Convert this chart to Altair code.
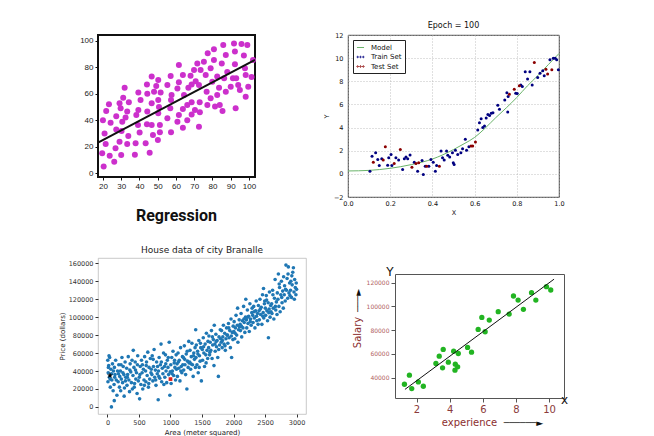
import altair as alt
import pandas as pd

# ---------------- Panel 1 : "Regression" ----------------
p1_x = [20, 20.9, 21.5, 19.6, 20.4, 21.8, 23.3, 24.2, 23.7, 26.2,
        26.9, 27.3, 27.3, 29.1, 29.7, 29.1, 30, 30.2, 30.6, 31.1,
        31.9, 32.4, 33.3, 34.2, 33.9, 33.3, 37.5, 37.9, 38.3, 39.4,
        39.4, 39.2, 40.1, 40.6, 43.4, 44.1, 44.3, 44.3, 44.1, 45.6,
        46.7, 46.7, 46.7, 47.4, 48, 49.2, 50.3, 50.3, 50.3, 50.1,
        50.7, 51.2, 51.2, 51.6, 55.3, 55.3, 57.1, 57.6, 57.3, 56.9,
        57.3, 60.8, 60.8, 61.6, 61.6, 61.6, 63.8, 63.8, 63.8, 64.4,
        66.2, 66.2, 66.8, 68, 68.6, 68.6, 68.6, 69.9, 70.4, 70.8,
        71.7, 72.6, 72.6, 73, 73.1, 73.5, 75.3, 76.3, 76.8, 77.2,
        77.4, 79, 79, 79.9, 80.8, 81.4, 80.8, 82.6, 82.6, 83.6,
        84, 85.1, 85.5, 85.9, 86.4, 87.3, 87.3, 88.1, 90, 91.2,
        91.8, 92.3, 92.3, 92.7, 93, 94.1, 95, 95.9, 97.2, 97.8,
        98.2, 98.2, 99.1, 99.6, 101.4, 102.2]
p1_y = [40, 30, 22, 15, 5, 47, 52, 38, 13, 8.6,
        18.7, 33, 43, 52.8, 49, 23.7, 13.6, 31.8, 38.9, 57,
        64.6, 42, 46.5, 53.5, 28, 22, 13.9, 22.5, 44, 60.9,
        47.7, 36.4, 30.6, 55.3, 22.5, 67, 60, 46.5, 36.9, 15.4,
        73, 52.8, 36.4, 28.8, 61.6, 65.9, 70.5, 55.3, 45.2, 25,
        50, 36.4, 30.8, 60.9, 66.7, 41.4, 73.5, 59, 55.3, 49,
        30.8, 64, 38.9, 81.8, 68.7, 44, 74.2, 48.5, 34.3, 59,
        51.5, 40, 64.6, 73.7, 67, 53.5, 44.4, 78, 47.7, 69.4,
        83, 35, 66.7, 53.5, 46, 78, 84.3, 74.2, 61.6, 51.5,
        90.7, 56.6, 79.3, 69.2, 85.6, 50.3, 93.7, 73, 59, 64.6,
        51.5, 83, 47, 97, 71.7, 61.6, 89.4, 76.5, 65.4, 71.7,
        98, 92, 82.3, 49, 71.7, 66.7, 62.9, 97.7, 89, 79.3,
        74.2, 57.8, 97, 65.4, 72.7, 85.6]
fit1_x = [17.3, 103.3]
fit1_y = [23.0, 85.6]
x1_ticks = [20, 30, 40, 50, 60, 70, 80, 90, 100]
y1_ticks = [0, 20, 40, 60, 80, 100]

# ---------------- Panel 2 : "Epoch = 100" ----------------
train_x = [.104, .114, .131, .141, .148, .16, .188, .193, .204, .208,
           .227, .24, .259, .267, .275, .283, .294, .314, .33, .351,
           .357, .366, .383, .393, .404, .414, .42, .441, .448, .456,
           .467, .473, .482, .495, .503,
           .499, .509, .52, .535, .543, .556, .562, .573,
           .615, .623, .631, .639, .647, .655, .663, .671, .679, .687,
           .71, .718, .743, .753, .759, .757,
           .795, .802, .819, .826, .84, .851, .862, .873,
           .899, .91, .923, .93, .957, .973, .982, .989, .997]
train_y = [.23, 1.53, 1.82, 1.24, .72, 1.3, .75, 1.39, 1.68, .72,
           1.39, 1.19, .37, 1.3, 1.45, 1.3, 1.62, 1.01, .23, 1.16,
           -.06, .66, .66, 1.24, 1.0, .23, .72, 1.97, 1.39, 1.19,
           1.97, 1.6, 1.45, 1.82, .81,
           .95, 2.05, 1.68, 1.82, 2.16, 2.98, 2.05, 2.34,
           3.79, 4.42, 4.77, 4.0, 4.13, 4.83, 5.14, 5.05, 5.23, 5.29,
           5.93, 5.58, 6.39, 7.02, 6.68, 5.35,
           6.97, 6.94, 7.67, 7.55, 8.82, 8.19, 8.82, 7.67,
           8.33, 8.7, 8.91, 8.48, 9.87, 10.0, 10.0, 9.87, 8.99]
test_x = [.12, .167, .177, .219, .248, .303, .322, .335, .373, .433,
          .583, .591, .604, .765, .788, .812, .883, .938, .946, .966]
test_y = [1.01, 1.19, 2.34, .89, 2.11, .58, .9, .95, .66, .66,
          2.4, 2.4, 2.75, 6.89, 7.32, 7.61, 9.63, 9.05, 8.62, 8.99]
model_x = [0, .1, .2, .3, .4, .45, .5, .55, .6, .65, .7, .75, .8, .85, .9, .95, 1.0]
model_y = [.25, .3, .48, .8, 1.28, 1.65, 2.1, 2.6, 3.15, 3.95, 4.85, 5.7, 6.6, 7.6, 8.5, 9.45, 10.4]
series_names = ["Model", "Train Set", "Test Set"]
x2_ticks = [0, 0.2, 0.4, 0.6, 0.8, 1.0]
y2_ticks = [-2, 0, 2, 4, 6, 8, 10, 12]

# ---------------- Panel 3 : "House data of city Branalle" ----------------
area = [5, 12, 20, 8, 30, 25, 42, 45, 55, 63, 70, 80, 90, 95, 35, 15, 65,
        105, 110, 120, 130, 140, 150, 160, 170, 180, 190, 115, 175, 108, 195,
        205, 210, 220, 230, 240, 250, 260, 270, 280, 290, 215, 265, 285, 245,
        305, 310, 320, 330, 340, 350, 360, 370, 380, 390, 315, 355, 395,
        405, 410, 420, 430, 440, 450, 460, 470, 480, 490, 445, 475, 425,
        505, 510, 520, 530, 540, 550, 560, 570, 580, 590, 515, 555, 585,
        605, 610, 620, 630, 640, 650, 660, 670, 680, 690, 615, 655, 695,
        705, 710, 720, 730, 740, 750, 760, 770, 780, 790, 725, 765, 795,
        805, 810, 820, 830, 840, 850, 860, 870, 880, 890, 815, 855, 895,
        905, 910, 920, 930, 940, 950, 960, 970, 980, 990, 925, 965, 995,
        1005, 1010, 1020, 1030, 1040, 1050, 1060, 1070, 1080, 1090, 1025, 1065, 1095,
        1105, 1110, 1120, 1130, 1140, 1150, 1160, 1170, 1180, 1190, 1125, 1165, 1195,
        1205, 1210, 1220, 1230, 1240, 1250, 1260, 1270, 1280, 1290, 1225, 1265, 1295,
        1305, 1310, 1320, 1330, 1340, 1350, 1360, 1370, 1380, 1390, 1325, 1365, 1395,
        1400, 1405, 1410, 1420, 1430, 1440, 1450, 1460, 1470, 1480, 1490, 1435, 1475, 1455,
        1505, 1510, 1520, 1530, 1540, 1550, 1560, 1570, 1580, 1590, 1525, 1565, 1595,
        1605, 1610, 1620, 1630, 1640, 1650, 1660, 1670, 1680, 1690, 1625, 1665, 1695,
        1705, 1710, 1720, 1730, 1740, 1750, 1760, 1770, 1780, 1790, 1725, 1765, 1795,
        1805, 1810, 1820, 1830, 1840, 1850, 1860, 1870, 1880, 1890, 1825, 1865, 1895,
        1905, 1910, 1920, 1930, 1940, 1950, 1960, 1970, 1980, 1990, 1925, 1965, 1995,
        2005, 2010, 2020, 2030, 2040, 2050, 2060, 2070, 2080, 2090, 2025, 2065, 2095,
        2105, 2110, 2120, 2130, 2140, 2150, 2160, 2170, 2180, 2190, 2125, 2165, 2195,
        2205, 2210, 2220, 2230, 2240, 2250, 2260, 2270, 2280, 2290, 2225, 2265, 2295,
        2305, 2310, 2320, 2330, 2340, 2350, 2360, 2370, 2380, 2390, 2325, 2365, 2395,
        2405, 2410, 2420, 2430, 2440, 2450, 2460, 2470, 2476, 2480, 2490, 2425, 2465, 2495,
        2505, 2510, 2520, 2530, 2540, 2554, 2550, 2560, 2570, 2580, 2590, 2525, 2565, 2595,
        2605, 2610, 2620, 2630, 2640, 2650, 2660, 2670, 2680, 2690, 2625, 2665, 2695,
        2705, 2712, 2720, 2730, 2740, 2750, 2760, 2770, 2780, 2790, 2725, 2765, 2795,
        2805, 2810, 2820, 2832, 2840, 2850, 2860, 2870, 2880, 2890, 2825, 2865, 2895,
        2905, 2910, 2920, 2930, 2940, 2950, 2960, 2970, 2980, 2990, 2995, 2925, 2965, 3000]
price_k = [52, 38, 46, 28, 33, 57, 31, 22, 42, 0, 30, 48, 18, 40, 55, 44, 37,
           25, 44, 36, 52, 30, 13, 40, 28, 47, 22, 33, 37, 7, 34,
           40, 18, 31, 55, 27, 45, 36, 21, 50, 33, 47, 12, 29, 38,
           43, 24, 36, 56, 30, 17, 48, 39, 27, 52, 33, 41, 20,
           35, 63, 44, 26, 50, 31, 38, 15, 57, 29, 41, 47, 22,
           33, 9, 45, 25, 52, 38, 20, 42, 30, 56, 36, 47, 24,
           40, 28, 50, 35, 61, 22, 44, 31, 54, 38, 46, 26, 42,
           36, 57, 29, 45, 64, 33, 41, 24, 50, 37, 53, 30, 45,
           8, 40, 55, 32, 47, 70, 28, 43, 37, 60, 34, 50, 25,
           45, 33, 58, 40, 27, 52, 44, 36, 72, 13, 48, 55, 39,
           47, 26, 55, 40, 62, 35, 49, 44, 30, 58, 37, 52, 42,
           48, 34, 60, 43, 52, 29, 66, 45, 38, 56, 50, 40, 47,
           55, 41, 68, 47, 36, 59, 20, 51, 44, 73, 53, 62, 49,
           50, 63, 42, 56, 71, 47, 34, 60, 53, 66, 48, 57, 44,
           86, 55, 69, 47, 62, 38, 74, 57, 51, 66, 29, 59, 71, 44,
           64, 52, 77, 60, 45, 70, 58, 82, 63, 54, 67, 49, 73,
           66, 79, 58, 72, 63, 85, 54, 69, 75, 46, 61, 78, 91,
           70, 62, 81, 67, 74, 55, 34, 78, 69, 86, 73, 64, 76,
           72, 85, 66, 78, 91, 70, 82, 63, 76, 88, 74, 68, 80,
           80, 71, 93, 77, 85, 66, 98, 55, 83, 75, 88, 79, 90,
           84, 95, 76, 88, 102, 80, 91, 72, 86, 97, 82, 110, 89,
           92, 85, 104, 78, 96, 88, 112, 94, 83, 100, 90, 98, 120,
           97, 88, 108, 93, 101, 84, 115, 98, 91, 105, 100, 95, 110,
           102, 94, 112, 99, 88, 107, 118, 96, 104, 92, 106, 101, 113,
           107, 97, 120, 103, 111, 92, 125, 105, 132, 99, 115, 109, 101, 118,
           110, 102, 124, 107, 96, 77, 116, 105, 128, 100, 113, 119, 109, 106,
           115, 104, 130, 110, 98, 121, 142, 108, 117, 103, 125, 112, 127,
           120, 148, 112, 133, 106, 125, 140, 116, 129, 110, 137, 122, 145,
           125, 135, 118, 158, 130, 143, 121, 156, 127, 138, 131, 148, 124,
           130, 140, 122, 136, 150, 155, 128, 142, 133, 125, 138, 146, 120, 131]
star_area, star_price = [40], [35000]
red_area, red_price = [1000], [31000]
x3_ticks = [0, 500, 1000, 1500, 2000, 2500, 3000]
y3_ticks = [0, 20000, 40000, 60000, 80000, 100000, 120000, 140000, 160000]

# ---------------- Panel 4 : Salary vs experience ----------------
exp_x = [1.27, 1.57, 1.71, 2.11, 2.41, 3.17, 3.37, 3.57, 3.61, 3.92,
         4.24, 4.34, 4.32, 4.48, 4.52, 5.08, 5.32, 5.72, 5.94, 6.14,
         6.39, 6.93, 7.59, 7.85, 8.13, 8.45, 8.94, 9.2, 9.84, 10.1]
sal_y = [34360, 41970, 30700, 36340, 32670, 51840, 58040, 48180, 63680, 52970,
         62270, 51280, 46200, 49020, 60300, 65370, 61430, 80590, 90740, 78620,
         88490, 95530, 93560, 108780, 105400, 97510, 111600, 105400, 116680, 113860]
fit4_x = [1.3, 10.3]
fit4_y = [30000, 123000]
x4_ticks = [2, 4, 6, 8, 10]
y4_ticks = [40000, 60000, 80000, 100000, 120000]

# ---------------- styling ----------------
SANS = "Liberation Sans"
DJV = "DejaVu Sans"
MAGENTA = "#cc30cc"
GREEN_LINE = "#6ab46a"
NAVY = "#000080"
DARKRED = "#8b0000"
MPL_BLUE = "#1f77b4"
GREEN = "#22b422"
DOTS = ("M-1,0a0.2,0.2 0 1,0 0.4,0a0.2,0.2 0 1,0 -0.4,0"
        "M-0.2,0a0.2,0.2 0 1,0 0.4,0a0.2,0.2 0 1,0 -0.4,0"
        "M0.6,0a0.2,0.2 0 1,0 0.4,0a0.2,0.2 0 1,0 -0.4,0")
STAR = ("M0,-1L0.24,-0.33L0.95,-0.31L0.38,0.12L0.59,0.81L0,0.4"
        "L-0.59,0.81L-0.38,0.12L-0.95,-0.31L-0.24,-0.33Z")

# ---------- panel 1 ----------
W1, H1 = 157, 142
ax1 = dict(grid=False, domain=False, tickSize=3, tickColor="#111",
           labelFontSize=8, labelColor="#222", labelFont=SANS, labelPadding=2,
           labelFlush=False, title=None)
x1 = alt.X("x:Q", scale=alt.Scale(domain=[17.3, 103.3], nice=False, zero=False),
           axis=alt.Axis(values=x1_ticks, **ax1))
y1 = alt.Y("y:Q", scale=alt.Scale(domain=[-3, 104.5], nice=False, zero=False),
           axis=alt.Axis(values=y1_ticks, **ax1))
pts1 = alt.Chart(pd.DataFrame({"x": p1_x, "y": p1_y})).mark_circle(
    size=36, color=MAGENTA, opacity=1).encode(x=x1, y=y1)
line1 = alt.Chart(pd.DataFrame({"x": fit1_x, "y": fit1_y})).mark_line(
    color="#111", strokeWidth=2, clip=True).encode(x=x1, y=y1)
panel1 = alt.layer(pts1, line1).properties(
    width=W1, height=H1,
    view=alt.ViewBackground(stroke="#111", strokeWidth=2, fill="white"),
    title=alt.TitleParams("Regression", orient="bottom", anchor="middle", offset=18,
                          fontSize=16, fontWeight="bold", font="Roboto", color="#111"))

# ---------- panel 2 ----------
W2, H2 = 211, 162
ax2 = dict(grid=True, gridColor="#b0b0b0", gridDash=[1, 2], gridWidth=0.8,
           domain=False, ticks=False, labelFontSize=6.5, labelColor="#111",
           labelFont=DJV, labelFlush=False,
           titleFontSize=6.5, titleFontWeight="normal", titleFont=DJV, titleColor="#111")
x2 = alt.X("x:Q", scale=alt.Scale(domain=[0, 1], nice=False, zero=False),
           axis=alt.Axis(values=x2_ticks, format=".1f", title="X", titlePadding=3,
                         labelPadding=3, **ax2))
y2 = alt.Y("y:Q", scale=alt.Scale(domain=[-2, 12], nice=False, zero=False),
           axis=alt.Axis(values=y2_ticks, format="d", title="Y", titlePadding=4,
                         labelPadding=5, **ax2))
model = alt.Chart(pd.DataFrame({"x": model_x, "y": model_y})).mark_line(
    color=GREEN_LINE, strokeWidth=1, interpolate="monotone").encode(x=x2, y=y2)
train = alt.Chart(pd.DataFrame({"x": train_x, "y": train_y})).mark_circle(
    size=9, color=NAVY, opacity=1).encode(x=x2, y=y2)
test = alt.Chart(pd.DataFrame({"x": test_x, "y": test_y})).mark_circle(
    size=9, color=DARKRED, opacity=1).encode(x=x2, y=y2)
legend2 = alt.Legend(title=None, orient="top-left", offset=5, padding=3,
                     strokeColor="#222", fillColor="white", labelFontSize=7,
                     labelFont=DJV, labelColor="#111", rowPadding=1.5,
                     symbolSize=50, symbolStrokeWidth=1.0, symbolOpacity=1,
                     labelOffset=6, cornerRadius=0)
legend_layer = alt.Chart(pd.DataFrame({"series": series_names})).mark_point(
    filled=False, opacity=0, size=1).encode(
    color=alt.Color("series:N", scale=alt.Scale(domain=series_names,
                    range=[GREEN_LINE, NAVY, DARKRED]), legend=legend2),
    shape=alt.Shape("series:N", scale=alt.Scale(domain=series_names,
                    range=["stroke", DOTS, DOTS]), legend=legend2))
panel2 = alt.layer(model, train, test, legend_layer).properties(
    width=W2, height=H2,
    view=alt.ViewBackground(stroke="#111", strokeWidth=0.8, fill="white"),
    title=alt.TitleParams("Epoch = 100", fontSize=8, fontWeight="normal", font=DJV,
                          color="#111", offset=2, anchor="middle"))

# ---------- panel 3 ----------
W3, H3 = 208, 156
ax3 = dict(grid=False, domain=False, tickSize=3, tickColor="#333",
           labelFontSize=6.5, labelColor="#333", labelFont=DJV, labelPadding=2,
           labelFlush=False, titleFontSize=7, titleFontWeight="normal",
           titleFont=DJV, titleColor="#222")
x3 = alt.X("area:Q", scale=alt.Scale(domain=[-150, 3150], nice=False, zero=False),
           axis=alt.Axis(values=x3_ticks, format="d", title="Area (meter squared)",
                         titlePadding=3, **ax3))
y3 = alt.Y("price:Q", scale=alt.Scale(domain=[-7900, 165900], nice=False, zero=False),
           axis=alt.Axis(values=y3_ticks, format="d", title="Price (dollars)",
                         titlePadding=3, **ax3))
df3 = pd.DataFrame({"area": area, "price": [v * 1000 for v in price_k]})
pts3 = alt.Chart(df3).mark_circle(size=13, color=MPL_BLUE, opacity=1).encode(x=x3, y=y3)
star3 = alt.Chart(pd.DataFrame({"area": star_area, "price": star_price})).mark_point(
    shape=STAR, filled=True, color="black", size=40, opacity=1).encode(x=x3, y=y3)
red3 = alt.Chart(pd.DataFrame({"area": red_area, "price": red_price})).mark_square(
    size=14, color="#e0201a", opacity=1).encode(x=x3, y=y3)
panel3 = alt.layer(pts3, star3, red3).properties(
    width=W3, height=H3,
    view=alt.ViewBackground(stroke="#bbbbbb", strokeWidth=0.8, fill="white"),
    title=alt.TitleParams("House data of city Branalle", fontSize=9, fontWeight="normal",
                          font=DJV, color="#222", offset=3, anchor="middle"))

# ---------- panel 4 ----------
W4, H4 = 169, 124
X4_DOMAIN = [0.7, 10.9]
Y4_DOMAIN = [22750, 127350]
sx4 = alt.Scale(domain=X4_DOMAIN, nice=False, zero=False)
sy4 = alt.Scale(domain=Y4_DOMAIN, nice=False, zero=False)
pts4 = alt.Chart(pd.DataFrame({"x": exp_x, "y": sal_y})).mark_circle(
    size=28, color=GREEN, opacity=1).encode(
    x=alt.X("x:Q", scale=sx4, axis=alt.Axis(
        values=x4_ticks, grid=False, domain=False, tickSize=4, tickColor="#555",
        labelFontSize=10, labelColor="#8b3a3a", labelFont=DJV, labelPadding=2,
        labelFlush=False, title="experience", titleFont=DJV, titleFontSize=10,
        titleFontWeight="normal", titleColor="#8b2e2e", titleX=74, titleY=24,
        titleBaseline="middle", titleAlign="center")),
    y=alt.Y("y:Q", scale=sy4, axis=alt.Axis(
        values=y4_ticks, format="d", grid=False, domain=False, tickSize=4,
        tickColor="#555", labelFontSize=6, labelColor="#b06060", labelFont=DJV,
        labelPadding=2, labelFlush=False, title="Salary", titleFont=DJV,
        titleFontSize=10, titleFontWeight="normal", titleColor="#8b2e2e",
        titleX=-38, titleY=58, titleBaseline="middle", titleAlign="center")))
fit4 = alt.Chart(pd.DataFrame({"x": fit4_x, "y": fit4_y})).mark_line(
    color="#111", strokeWidth=1).encode(
    x=alt.X("x:Q", scale=sx4, axis=alt.Axis(
        orient="bottom", values=[X4_DOMAIN[1]], labelExpr="'x'", ticks=False,
        tickSize=0, domain=False, grid=False, labelFontSize=12, labelColor="#111",
        labelFont=DJV, labelPadding=1, labelBaseline="middle", labelAlign="center",
        labelFlush=False, title="──────►", titleFont=DJV, titleFontSize=9,
        titleColor="#111", titleX=128, titleY=24, titleBaseline="middle",
        titleAlign="center", titleFontWeight="normal")),
    y=alt.Y("y:Q", scale=sy4, axis=alt.Axis(
        orient="left", values=[Y4_DOMAIN[1]], labelExpr="'Y'", ticks=False,
        tickSize=0, domain=False, grid=False, labelFontSize=12, labelColor="#111",
        labelFont=DJV, labelPadding=2, labelAlign="right", labelBaseline="alphabetic",
        labelOffset=1.5, labelFlush=False, title="───►", titleFont=DJV, titleFontSize=9,
        titleColor="#111", titleX=-38, titleY=26, titleBaseline="middle",
        titleAlign="center", titleFontWeight="normal")))
panel4 = alt.layer(pts4, fit4).resolve_axis(x="independent", y="independent").properties(
    width=W4, height=H4,
    view=alt.ViewBackground(stroke="#555", strokeWidth=1, fill="white"))

# ---------- layout ----------
row1 = alt.hconcat(panel1, panel2, spacing=93, bounds="flush").resolve_scale(
    color="independent", shape="independent").resolve_legend(
    color="independent", shape="independent")
row2 = alt.hconcat(panel3, panel4, spacing=89, bounds="flush", center=True)
chart = alt.vconcat(row1, row2, spacing=223, bounds="flush").resolve_scale(
    color="independent", shape="independent").resolve_legend(
    color="independent", shape="independent").properties(
    padding={"left": 49, "top": 13, "right": 4, "bottom": 4},
    background="white")

chart.save("out.html", embed_options={"renderer": "svg", "actions": False})
